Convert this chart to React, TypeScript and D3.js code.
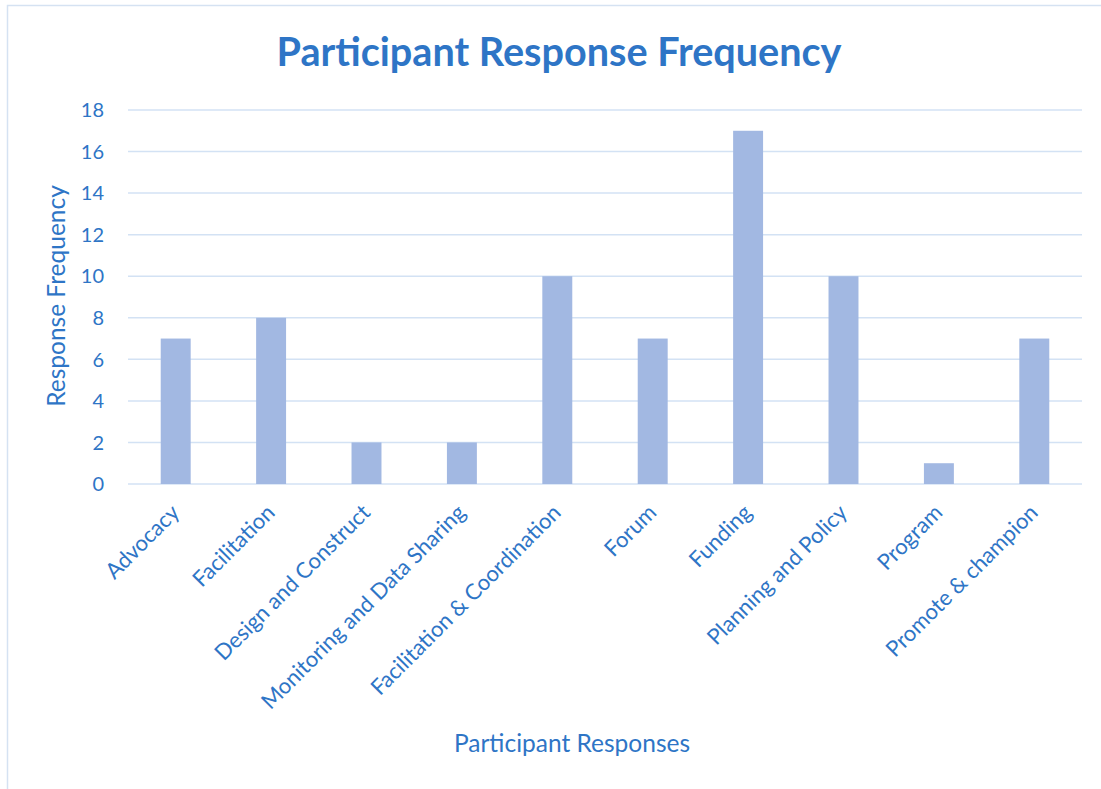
import React from "react";
import * as d3 from "d3";

const categories = [
  "Advocacy",
  "Facilitation",
  "Design and Construct",
  "Monitoring and Data Sharing",
  "Facilitation & Coordination",
  "Forum",
  "Funding",
  "Planning and Policy",
  "Program",
  "Promote & champion",
];
const values = [7, 8, 2, 2, 10, 7, 17, 10, 1, 7];
const yTicks = [0, 2, 4, 6, 8, 10, 12, 14, 16, 18];

const W = 1101;
const H = 789;
const TEXT = "#2E75C6";
const BAR = "#A2B8E2";
const GRID = "#D3E2F4";
const FONT = "Lato, 'Open Sans', sans-serif";

export default function App() {
  const left = 128;
  const right = 1082;
  const top = 110;
  const bottom = 484;
  const x = d3.scaleBand<string>().domain(categories).range([left, right]).paddingInner(0.686).paddingOuter(0.343);
  const xc = d3.scaleBand<string>().domain(categories).range([left, right]);
  const y = d3.scaleLinear().domain([0, 18]).range([bottom, top]);

  return (
    <svg width={W} height={H} style={{ position: "absolute", left: 0, top: 0, background: "#fff" }}>
      <rect x={7.5} y={5.5} width={1100} height={800} fill="#fff" stroke="#D5E2F2" strokeWidth={1.5} />
      <text x={559} y={66} textAnchor="middle" fill={TEXT} fontFamily={FONT} fontWeight={700} fontSize={39.6}>
        Participant Response Frequency
      </text>
      {yTicks.map((t) => (
        <g key={t}>
          <line x1={left} x2={right} y1={y(t)} y2={y(t)} stroke={GRID} strokeWidth={1.5} />
          <text x={104} y={y(t)} dy="0.36em" textAnchor="end" fill={TEXT} fontFamily={FONT} fontSize={20}>
            {t}
          </text>
        </g>
      ))}
      {categories.map((c, i) => (
        <rect key={c} x={x(c)} y={y(values[i])} width={x.bandwidth()} height={y(0) - y(values[i])} fill={BAR} />
      ))}
      {categories.map((c) => {
        const cx = (xc(c) as number) + xc.bandwidth() / 2 + 5;
        const cy = 514;
        return (
          <text
            key={c}
            x={cx}
            y={cy}
            transform={`rotate(-45 ${cx} ${cy})`}
            textAnchor="end"
            fill={TEXT}
            fontFamily={FONT}
            fontSize={22}
          >
            {c}
          </text>
        );
      })}
      <text
        x={0}
        y={0}
        transform={`translate(65 296) rotate(-90)`}
        textAnchor="middle"
        fill={TEXT}
        fontFamily={FONT}
        fontSize={24.5}
      >
        Response Frequency
      </text>
      <text x={572} y={752} textAnchor="middle" fill={TEXT} fontFamily={FONT} fontSize={24.5}>
        Participant Responses
      </text>
    </svg>
  );
}
